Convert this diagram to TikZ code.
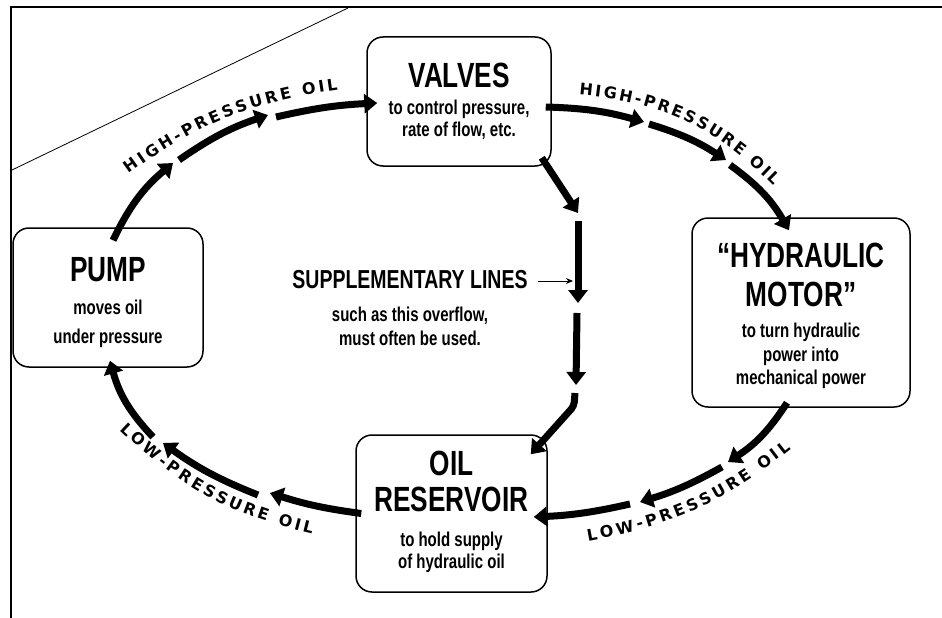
\documentclass[tikz,border=0pt]{standalone}
\usepackage{fontspec}
\usepackage{tikz}
\usetikzlibrary{arrows.meta,decorations.text}
\newfontfamily\boxfont{Liberation Sans}[FakeStretch=0.75]
\newfontfamily\flowfont{DejaVu Sans}
\newcommand{\unitname}{\boxfont\bfseries\fontsize{35}{35}\selectfont}
\newcommand{\unitnote}{\boxfont\bfseries\fontsize{20}{23}\selectfont}
\newcommand{\notename}{\boxfont\bfseries\fontsize{26}{26}\selectfont}
\newcommand{\flowname}{\flowfont\bfseries\fontsize{16}{16}\selectfont}
\setlength{\tabcolsep}{0pt}

\begin{document}
\begin{tikzpicture}[x=1pt,y=1pt]
	\tikzstyle{unit}=[draw,rectangle,rounded corners=16pt,line width=1.5pt,inner sep=0pt,anchor=base,font=\unitnote]
	\tikzstyle{flow}=[line width=7pt,-{Triangle[length=13pt,width=19pt]}]
	\tikzstyle{pointer}=[line width=1pt,-{Stealth[length=7pt,width=6pt]}]
	\tikzstyle{flowlabel}=[decorate,decoration={text along path,text align=fit to path}]

	\useasboundingbox (0,0) rectangle (942,-618);

	% frame of the page
	\draw[line width=2.5pt] (942,-7) -- (11,-7) -- (11,-618);
	\draw[line width=0.8pt] (12,-170) -- (348,-8);

	\node[unit,minimum width=184pt,text height=50pt,text depth=79pt] (valves) at (459,-87) {
		\begin{tabular}[t]{c}
			{\unitname VALVES} \\[5pt]
			to control pressure, \\[-1pt]
			rate of flow, etc.
		\end{tabular}};

	\node[unit,minimum width=190pt,text height=53pt,text depth=86pt] (pump) at (108,-281) {
		\begin{tabular}[t]{c}
			{\unitname PUMP} \\[10pt]
			moves oil \\[6pt]
			under pressure
		\end{tabular}};

	\node[unit,minimum width=218pt,text height=49pt,text depth=140pt] (motor) at (801,-267) {
		\begin{tabular}[t]{c}
			{\unitname “HYDRAULIC} \\[8pt]
			{\unitname MOTOR”} \\[8pt]
			to turn hydraulic \\[1pt]
			power into \\
			mechanical power
		\end{tabular}};

	\node[unit,minimum width=191pt,text height=40pt,text depth=117pt] (tank) at (451.5,-475) {
		\begin{tabular}[t]{c}
			{\unitname OIL} \\[5pt]
			{\unitname RESERVOIR} \\[12pt]
			to hold supply \\[-1pt]
			of hydraulic oil
		\end{tabular}};

	\node[anchor=base,inner sep=0pt,font=\unitnote] (note) at (410,-288) {
		\begin{tabular}[t]{c}
			{\notename SUPPLEMENTARY LINES} \\[10pt]
			such as this overflow, \\[1pt]
			must often be used.
		\end{tabular}};

	% high pressure: pump to valves
	\coordinate (hpA) at (173,-163);
	\coordinate (hpB) at (179,-160);
	\coordinate (hpC) at (268,-115);
	\coordinate (hpD) at (276,-117);
	\draw[flow] ([xshift=5pt,yshift=-13pt]pump.north) to[bend left=12] (hpA);
	\draw[flow] (hpB) to[bend left=8] (hpC);
	\draw[flow] (hpD) to[bend left=5] ([xshift=11pt,yshift=-1.5pt]valves.west);

	% high pressure: valves to motor
	\coordinate (hpE) at (644,-122);
	\coordinate (hpF) at (649,-124);
	\coordinate (hpG) at (726,-160);
	\coordinate (hpH) at (730,-165);
	\draw[flow] ([xshift=-6pt,yshift=-5.5pt]valves.east) to[bend left=7] (hpE);
	\draw[flow] (hpF) to[bend left=8] (hpG);
	\draw[flow] (hpH) to[bend left=12] ([xshift=-12pt,yshift=-13pt]motor.north);

	% low pressure: motor to reservoir
	\coordinate (lpA) at (728,-462);
	\coordinate (lpB) at (722,-467);
	\coordinate (lpC) at (640,-502);
	\coordinate (lpD) at (630,-504);
	\draw[flow] ([xshift=-14pt,yshift=5pt]motor.south) to[bend left=12] (lpA);
	\draw[flow] (lpB) to[bend left=6] (lpC);
	\draw[flow] (lpD) to[bend left=5] ([xshift=-14pt,yshift=-3.5pt]tank.east);

	% low pressure: reservoir to pump
	\coordinate (lpE) at (270,-493);
	\coordinate (lpF) at (258,-495);
	\coordinate (lpG) at (163,-443);
	\coordinate (lpH) at (153,-437);
	\draw[flow] ([xshift=6pt]tank.west) to[bend left=5] (lpE);
	\draw[flow] (lpF) to[bend left=7] (lpG);
	\draw[flow] (lpH) to[bend left=14] ([xshift=2pt,yshift=7pt]pump.south);

	% overflow line
	\coordinate (ovA) at (578,-213);
	\coordinate (ovB) at (578,-221);
	\coordinate (ovC) at (578,-303);
	\coordinate (ovD) at (577,-313);
	\coordinate (ovE) at (576,-385);
	\coordinate (ovF) at (575,-393);
	\coordinate (ovG) at (574,-406);
	\draw[flow] ([xshift=-10pt,yshift=9pt]valves.south east) -- (ovA);
	\draw[flow] (ovB) -- (ovC);
	\draw[flow] (ovD) -- (ovE);
	\draw[flow,rounded corners=4pt] (ovF) -- (ovG) -- ([xshift=-17pt,yshift=-20pt]tank.north east);
	\coordinate (tap) at (573,-281);
	\draw[pointer] ([xshift=10pt,yshift=7pt]note.base east) -- (tap);

	% labels along the lines
	\path[flowlabel,decoration={text={|\flowname|HIGH-PRESSURE OIL}}] (129,-174) to[bend left=14] (338,-90);
	\path[flowlabel,decoration={text={|\flowname|HIGH-PRESSURE OIL}}] (579,-95) to[bend left=20] (774,-186);
	\path[flowlabel,decoration={text={|\flowname|LOW-PRESSURE OIL}}] (588,-541) to[bend right=14] (791,-449);
	\path[flowlabel,decoration={text={|\flowname|LOW-PRESSURE OIL}}] (120,-430) to[bend right=15] (312,-534);

\end{tikzpicture}
\end{document}
